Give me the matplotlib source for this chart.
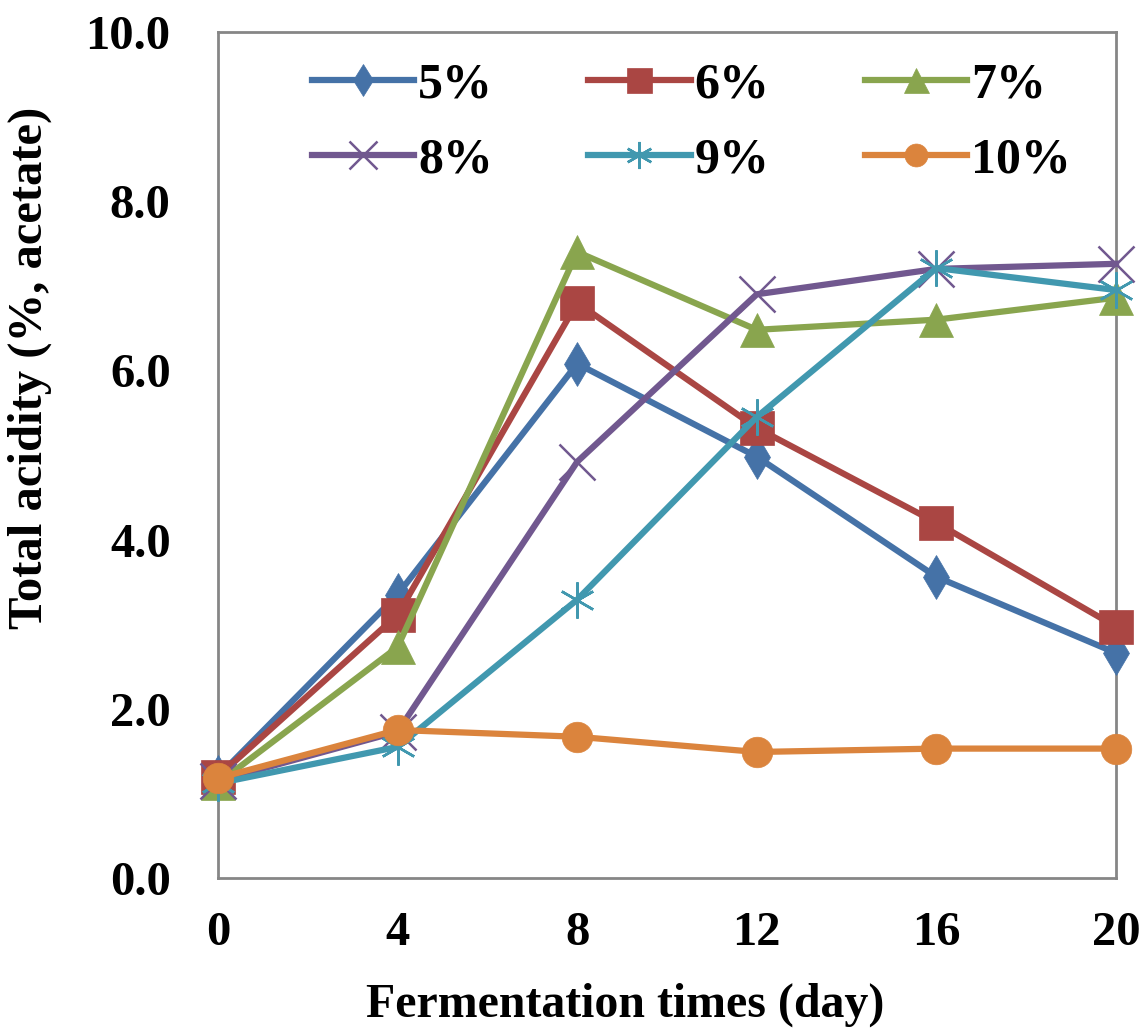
import numpy as np
import matplotlib
matplotlib.use('Agg')
import matplotlib.pyplot as plt
from matplotlib.ticker import FormatStrFormatter

plt.rcParams['font.family'] = ['Liberation Serif', 'DejaVu Serif']
plt.rcParams['font.weight'] = 'bold'

# data
days = [0, 4, 8, 12, 16, 20]
labels = ['5%', '6%', '7%', '8%', '9%', '10%']
acid_5 = [1.2, 3.35, 6.08, 4.98, 3.56, 2.66]
acid_6 = [1.2, 3.11, 6.8, 5.32, 4.2, 2.97]
acid_7 = [1.12, 2.73, 7.4, 6.48, 6.6, 6.86]
acid_8 = [1.15, 1.73, 4.92, 6.9, 7.2, 7.26]
acid_9 = [1.12, 1.55, 3.29, 5.45, 7.21, 6.95]
acid_10 = [1.18, 1.75, 1.67, 1.49, 1.53, 1.53]

series = [acid_5, acid_6, acid_7, acid_8, acid_9, acid_10]
colors = ['#4572A7', '#AA4643', '#89A54E', '#71588F', '#4198AF', '#DB843D']
markers = ['d', 's', '^', 'x', (6, 2, 0), 'o']
msizes = [22, 24, 24, 26, 26, 22]

fig = plt.figure(figsize=(11.43, 10.29), dpi=100)
ax = fig.add_axes([0.1907, 0.1467, 0.9764 - 0.1907, 0.9689 - 0.1467])

lines = []
for y, c, m, ms, lab in zip(series, colors, markers, msizes, labels):
    ln, = ax.plot(days, y, color=c, linewidth=4.5, marker=m, markersize=ms,
                  markeredgewidth=1.8 if m in ('x', (6, 2, 0)) else 0.5,
                  markeredgecolor=c, markerfacecolor=c, label=lab, clip_on=False, zorder=3)
    lines.append(ln)

ax.set_xlim(0, 20)
ax.set_ylim(0, 10)
ax.set_xticks(days)
ax.set_yticks(np.arange(0, 10.1, 2))
ax.yaxis.set_major_formatter(FormatStrFormatter('%.1f'))
ax.tick_params(length=0, labelsize=35)
ax.tick_params(axis='x', pad=24)
ax.tick_params(axis='y', pad=34)
for s in ax.spines.values():
    s.set_color('#868686')
    s.set_linewidth(2)

ax.set_xlabel('Fermentation times (day)', fontsize=34.5, fontweight='bold')
ax.set_ylabel('Total acidity (%, acetate)', fontsize=35, fontweight='bold')
ax.xaxis.set_label_coords(0.453, -0.124)
ax.yaxis.set_label_coords(-0.185, 0.603)

# legend filled row by row (matplotlib fills columns), so reorder
order = [0, 3, 1, 4, 2, 5]
leg = ax.legend([lines[i] for i in order], [labels[i] for i in order],
                loc='upper center', ncol=3, frameon=False, fontsize=36,
                handlelength=2.05, handletextpad=0.08, columnspacing=1.9,
                bbox_to_anchor=(0.527, 1.017), labelspacing=0.57, markerscale=0.75)

fig.savefig('out.png', dpi=100)
